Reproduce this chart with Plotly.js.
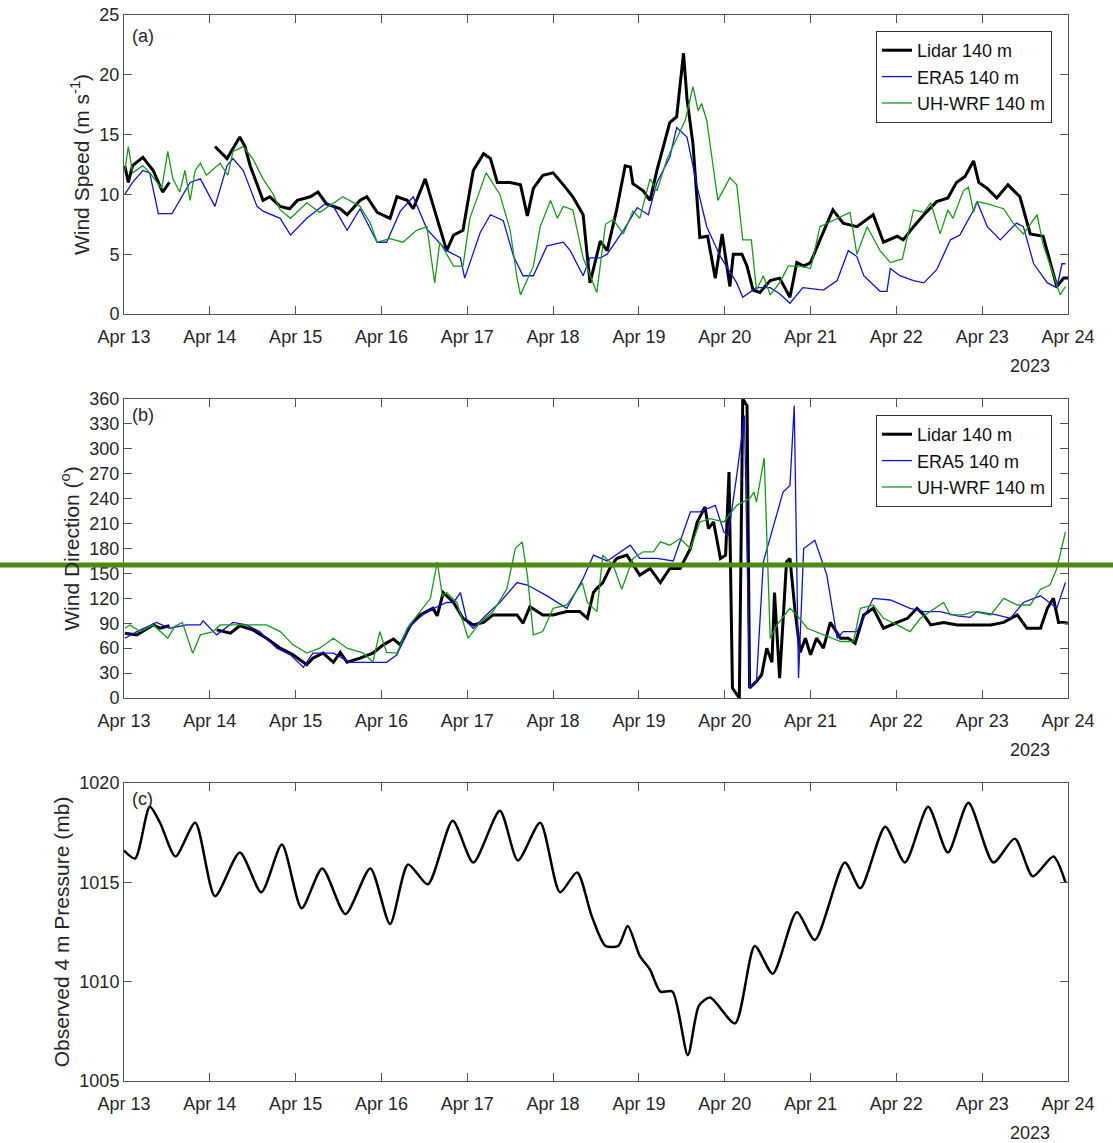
<!DOCTYPE html>
<html>
<head>
<meta charset="utf-8">
<script src="https://cdn.plot.ly/plotly-3.0.1.min.js"></script>
<style>body{margin:0;background:#fff}#plot{width:1113px;height:1143px}</style>
</head>
<body>
<div id="plot"></div>
<script>
// times are in days after 2023-04-13 00:00

// (a) wind speed, m/s
let lidarSpdT = [0.01,0.05,0.1,0.22,0.34,0.45,0.53,0.8,1.06,1.2,1.35,1.41,1.47,1.62,1.7,1.82,1.93,2.02,2.17,2.26,2.36,2.52,2.6,2.75,2.83,2.95,3.1,3.18,3.3,3.37,3.51,3.6,3.76,3.84,3.95,4.07,4.19,4.27,4.35,4.5,4.62,4.7,4.77,4.88,5.0,5.12,5.23,5.35,5.43,5.55,5.63,5.74,5.84,5.9,5.93,6.05,6.13,6.21,6.36,6.44,6.52,6.56,6.63,6.71,6.8,6.89,6.97,7.06,7.1,7.2,7.26,7.33,7.41,7.53,7.64,7.76,7.84,7.92,8.0,8.11,8.26,8.38,8.54,8.73,8.85,9.01,9.08,9.2,9.32,9.47,9.6,9.7,9.8,9.9,9.96,10.06,10.17,10.3,10.44,10.56,10.71,10.87,10.95,11.0];
let lidarSpd = [12.4,11,12.4,13.1,12,10.2,11,null,14,13,14.8,14,12.4,9.5,9.8,9,8.8,9.5,9.8,10.2,9.2,8.8,8.3,9.5,9.8,8.5,8,9.8,9.5,8.8,11.3,9.2,5.3,6.6,7,12,13.4,13,11,11,10.8,8.2,10.5,11.6,11.8,10.8,9.8,8.3,2.6,6.1,5.3,8.7,12.4,12.3,10.9,10.3,9.5,12,16,16.5,21.8,18,14.2,6.4,6.5,3,6.7,2.3,5,5,4,2,1.8,2.8,3,1.4,4.3,4,4.3,6.2,8.7,7.6,7.3,8.3,6,6.5,6.2,7.3,8.3,9.4,9.7,11,11.5,12.8,11,10.5,9.7,10.8,9.8,6.7,6.5,2.3,3,3];

let eraSpdT = [0.01,0.1,0.22,0.3,0.4,0.56,0.77,0.89,1.06,1.2,1.27,1.39,1.55,1.62,1.82,1.94,2.13,2.36,2.44,2.6,2.75,2.95,3.06,3.22,3.37,3.53,3.76,3.92,3.97,4.15,4.27,4.42,4.54,4.65,4.77,4.93,5.12,5.2,5.35,5.43,5.55,5.63,5.82,5.98,6.11,6.21,6.36,6.44,6.56,6.68,6.79,6.95,7.14,7.21,7.37,7.53,7.64,7.76,7.91,8.15,8.31,8.44,8.54,8.62,8.81,8.89,8.93,9.04,9.2,9.32,9.47,9.63,9.74,9.9,9.94,10.06,10.21,10.4,10.48,10.6,10.76,10.87,10.93,10.97];
let eraSpd = [10,11,12,11.8,8.4,8.4,11,11.3,9,12.4,13,12,9,8.6,8,6.6,8,9.3,9,7,8.8,6,6,8.6,9.8,7.1,5.3,4.7,3,6.8,8.3,7.8,4.8,3.2,3.2,5.7,6,5.3,3.2,4.7,4.7,5,7,8.9,8.3,11,13.1,15.6,14.8,10.6,7.3,4.8,2.6,1.4,2.2,2.2,1.7,0.9,2.2,2,2.8,5.3,4.8,3.2,1.9,1.9,3.8,3.2,2.8,2.6,3.7,6.2,6.6,8.7,9.4,7.3,6.2,7.6,7.3,4.2,2.6,2.2,4.2,4.2];

let wrfSpdT = [0.01,0.05,0.1,0.22,0.3,0.44,0.51,0.57,0.65,0.71,0.77,0.83,0.89,0.96,1.12,1.21,1.27,1.39,1.5,1.62,1.74,1.82,1.94,2.13,2.28,2.55,2.75,2.87,2.95,3.1,3.25,3.41,3.53,3.62,3.68,3.84,3.95,4.03,4.22,4.38,4.5,4.58,4.62,4.77,4.85,4.97,5.05,5.12,5.23,5.35,5.51,5.61,5.7,5.82,5.93,6.01,6.13,6.21,6.33,6.44,6.54,6.63,6.69,6.73,6.79,6.92,7.06,7.14,7.21,7.31,7.37,7.45,7.53,7.64,7.74,7.88,8.0,8.11,8.31,8.46,8.54,8.66,8.81,8.93,9.07,9.2,9.32,9.4,9.51,9.6,9.66,9.78,9.84,9.9,9.94,10.06,10.25,10.36,10.48,10.64,10.71,10.87,10.91,10.97];
let wrfSpd = [12,14,11.8,12.4,11.8,10.5,13.6,11.3,10.2,12,9.5,12,12.6,11.6,12.6,11.6,13.6,14,13,11.3,10,8.7,8,9.3,8.5,9.8,9,7.6,6,6.3,6,7,7.3,2.6,6,4,4,8,11.8,10,7,3,1.6,4,7.3,9.5,8,9,8.7,4.7,1.8,7.5,7.9,6.7,8.6,8,11.3,10.3,13,14.7,16.2,19,17,17.6,16.2,9.5,11.4,10.8,6.2,6.2,2,3.2,1.6,2.6,4,4,3.8,7.3,8,8.5,5,7.3,5.3,4.3,4.6,8.7,8.5,9.3,6.7,8.7,8,10.3,10.6,8.5,9.4,9.2,8.8,7.6,6.7,8.3,5.8,2.3,1.6,2.3];

// (b) wind direction, degrees
let lidarDirT = [0.01,0.15,0.34,0.42,0.53,0.8,1.08,1.24,1.35,1.5,1.66,1.82,1.97,2.13,2.2,2.32,2.44,2.52,2.6,2.75,2.9,3.02,3.14,3.22,3.34,3.45,3.6,3.65,3.72,3.84,3.95,4.07,4.19,4.3,4.46,4.58,4.65,4.73,4.88,5.0,5.16,5.31,5.4,5.47,5.51,5.58,5.66,5.74,5.86,6.01,6.13,6.25,6.36,6.48,6.6,6.68,6.77,6.81,6.87,6.95,7.01,7.05,7.09,7.14,7.17,7.21,7.26,7.29,7.37,7.43,7.49,7.55,7.58,7.64,7.72,7.76,7.82,7.88,7.94,8.0,8.07,8.15,8.23,8.35,8.44,8.52,8.62,8.73,8.85,9.01,9.13,9.24,9.32,9.4,9.55,9.71,9.9,10.1,10.25,10.41,10.52,10.68,10.76,10.83,10.89,10.95,11.0];
let lidarDir = [78,76,88,84,87,null,82,78,87,82,72,60,52,40,48,54,43,55,43,48,54,64,71,64,88,100,108,99,127,115,96,88,91,100,100,100,90,110,100,100,104,104,96,127,132,139,156,168,172,148,156,139,156,156,180,212,230,204,212,168,172,272,12,5,0,360,352,12,20,28,60,43,127,24,164,168,104,55,72,52,72,60,91,72,72,66,100,108,84,91,96,108,100,88,91,88,88,88,91,100,84,84,108,120,91,91,90];

let eraDirT = [0.01,0.15,0.38,0.53,0.73,0.89,0.92,1.08,1.27,1.43,1.58,1.78,1.94,2.09,2.2,2.44,2.63,2.79,2.95,3.06,3.18,3.34,3.53,3.76,3.84,3.92,4.0,4.07,4.22,4.38,4.58,4.7,4.93,5.16,5.35,5.47,5.63,5.78,5.9,6.01,6.21,6.4,6.6,6.71,6.89,6.99,7.04,7.14,7.23,7.29,7.37,7.45,7.57,7.68,7.76,7.81,7.86,7.92,8.05,8.19,8.31,8.38,8.54,8.73,8.93,9.16,9.32,9.51,9.71,9.86,9.94,10.17,10.33,10.48,10.68,10.87,10.97];
let eraDir = [72,80,91,84,88,88,93,76,91,88,80,60,52,37,54,54,43,43,43,43,52,88,104,115,115,127,91,84,100,115,139,136,123,108,144,172,165,176,184,168,168,165,224,224,232,200,196,268,340,12,20,164,208,248,256,352,24,180,190,148,72,80,80,120,118,108,104,104,99,97,104,100,96,115,123,108,139];

let wrfDirT = [0.01,0.07,0.19,0.34,0.51,0.59,0.68,0.73,0.8,0.89,1.04,1.12,1.31,1.5,1.66,1.82,1.97,2.13,2.28,2.44,2.6,2.79,2.9,2.98,3.06,3.18,3.3,3.45,3.57,3.65,3.71,3.76,3.88,4.01,4.15,4.3,4.46,4.56,4.64,4.7,4.77,4.88,5.0,5.16,5.23,5.34,5.4,5.51,5.58,5.7,5.8,5.93,6.05,6.17,6.25,6.36,6.48,6.6,6.71,6.83,6.99,7.14,7.29,7.34,7.37,7.46,7.53,7.61,7.76,7.84,7.96,8.15,8.35,8.5,8.58,8.73,8.85,9.01,9.16,9.28,9.4,9.55,9.63,9.78,9.9,10.1,10.25,10.41,10.56,10.68,10.79,10.87,10.97];
let wrfDir = [84,88,80,88,72,86,91,76,54,76,80,88,88,88,88,80,64,54,60,72,60,54,43,80,55,54,84,104,120,164,123,127,115,72,91,104,131,180,188,148,76,80,108,112,123,139,115,104,172,160,131,168,176,176,188,184,192,180,212,216,212,232,240,248,236,289,72,88,108,100,84,76,68,68,108,112,96,88,80,96,104,115,100,100,104,100,120,112,112,131,136,156,200];

// (c) observed 4 m pressure, mb
let presT = [0,0.13,0.3,0.42,0.6,0.83,1.06,1.35,1.6,1.84,2.07,2.31,2.58,2.87,3.1,3.31,3.54,3.83,4.07,4.38,4.59,4.85,5.08,5.28,5.45,5.61,5.76,5.87,6.01,6.13,6.25,6.39,6.57,6.7,6.83,7.12,7.35,7.56,7.84,8.05,8.4,8.58,8.87,9.1,9.37,9.6,9.84,10.13,10.38,10.59,10.83,10.97];
let pres = [1016.6,1016.2,1018.8,1018,1016.3,1018,1014.3,1016.5,1014.5,1016.9,1013.7,1015.7,1013.4,1015.7,1012.9,1015.9,1014.9,1018.1,1016,1018.6,1016.1,1018,1014.5,1015.5,1013.3,1011.8,1011.8,1012.8,1011.3,1010.6,1009.5,1009.5,1006.3,1008.8,1009.2,1007.9,1011.8,1010.4,1013.5,1012.1,1016,1014.7,1017.8,1016,1018.8,1016.5,1019,1016,1017.2,1015.3,1016.3,1015];

const base = Date.UTC(2023, 3, 13);
function toDate(d) {
  return new Date(base + d * 86400000).toISOString().slice(0, 19).replace("T", " ");
}
function dates(arr) { return arr.map(toDate); }

const black = "#000000", blue = "#1010e0", green = "#1a9a1a";
const tickFont = { family: "Liberation Sans, Arial", size: 18, color: "#262626" };
const titleFont = { family: "Liberation Sans, Arial", size: 21, color: "#262626" };

function line(t, v, name, color, width, xa, ya, legend, show) {
  return {
    x: dates(t), y: v, name: name, type: "scatter", mode: "lines",
    line: { color: color, width: width }, xaxis: xa, yaxis: ya,
    legend: legend, showlegend: show, connectgaps: false
  };
}

var data = [
  line(lidarSpdT, lidarSpd, "Lidar 140 m", black, 3, "x", "y", "legend", true),
  line(eraSpdT, eraSpd, "ERA5 140 m", blue, 1.3, "x", "y", "legend", true),
  line(wrfSpdT, wrfSpd, "UH-WRF 140 m", green, 1.3, "x", "y", "legend", true),
  line(lidarDirT, lidarDir, "Lidar 140 m", black, 3, "x2", "y2", "legend2", true),
  line(eraDirT, eraDir, "ERA5 140 m", blue, 1.3, "x2", "y2", "legend2", true),
  line(wrfDirT, wrfDir, "UH-WRF 140 m", green, 1.3, "x2", "y2", "legend2", true),
  line(presT, pres, "Pressure", black, 2.5, "x3", "y3", "legend", false)
];
data[6].line.shape = "spline";
data[6].line.smoothing = 0.7;

const xDom = [124 / 1113, 1068 / 1113];
function xaxis(anchor) {
  return {
    domain: xDom, anchor: anchor, type: "date",
    range: ["2023-04-13", "2023-04-24"],
    tickvals: dates([0,1,2,3,4,5,6,7,8,9,10,11]), tickformat: "%b %d",
    ticks: "inside", ticklen: 8, tickcolor: "#555", tickfont: tickFont, ticklabelstandoff: 6,
    showline: true, mirror: "ticks", linecolor: "#555", linewidth: 1, showgrid: false, zeroline: false
  };
}
function yaxis(anchor, dom, range, dtick, title) {
  return {
    domain: dom, anchor: anchor, range: range, dtick: dtick,
    ticks: "inside", ticklen: 8, tickcolor: "#555", tickfont: tickFont,
    showline: true, mirror: "ticks", linecolor: "#555", linewidth: 1, showgrid: false, zeroline: false,
    title: { text: title, font: titleFont, standoff: 4 }
  };
}
function yf(px) { return 1 - px / 1143; }

const legendStyle = {
  bgcolor: "#fff", bordercolor: "#333", borderwidth: 1,
  font: { family: "Liberation Sans, Arial", size: 18, color: "#111" },
  xanchor: "right", yanchor: "top", x: 1052 / 1113, tracegroupgap: 0
};

var layout = {
  width: 1113, height: 1143,
  margin: { l: 0, r: 0, t: 0, b: 0 },
  paper_bgcolor: "#fff", plot_bgcolor: "#fff",
  xaxis: xaxis("y"), yaxis: yaxis("x", [yf(314), yf(15)], [0, 25], 5, "Wind Speed (m s<sup>-1</sup>)"),
  xaxis2: xaxis("y2"), yaxis2: yaxis("x2", [yf(698), yf(399)], [0, 360], 30, "Wind Direction (<sup>o</sup>)"),
  xaxis3: xaxis("y3"), yaxis3: yaxis("x3", [yf(1081), yf(783)], [1005, 1020], 5, "Observed 4 m Pressure (mb)"),
  legend: Object.assign({ y: yf(31) }, legendStyle),
  legend2: Object.assign({ y: yf(415) }, legendStyle),
  annotations: [
    { text: "(a)", xref: "paper", yref: "paper", x: 130 / 1113, y: yf(24), xanchor: "left", yanchor: "top", showarrow: false, font: tickFont },
    { text: "(b)", xref: "paper", yref: "paper", x: 130 / 1113, y: yf(403), xanchor: "left", yanchor: "top", showarrow: false, font: tickFont },
    { text: "(c)", xref: "paper", yref: "paper", x: 130 / 1113, y: yf(787), xanchor: "left", yanchor: "top", showarrow: false, font: tickFont },
    { text: "2023", xref: "paper", yref: "paper", x: 1052 / 1113, y: yf(354), xanchor: "right", yanchor: "top", showarrow: false, font: tickFont },
    { text: "2023", xref: "paper", yref: "paper", x: 1052 / 1113, y: yf(738), xanchor: "right", yanchor: "top", showarrow: false, font: tickFont },
    { text: "2023", xref: "paper", yref: "paper", x: 1052 / 1113, y: yf(1121), xanchor: "right", yanchor: "top", showarrow: false, font: tickFont }
  ],
  shapes: [
    { type: "line", xref: "paper", yref: "paper", x0: 0, x1: 1, y0: yf(565), y1: yf(565), line: { color: "#4f8a10", width: 5 } }
  ]
};

Plotly.newPlot("plot", data, layout, { displayModeBar: false, staticPlot: true });
</script>
</body>
</html>
